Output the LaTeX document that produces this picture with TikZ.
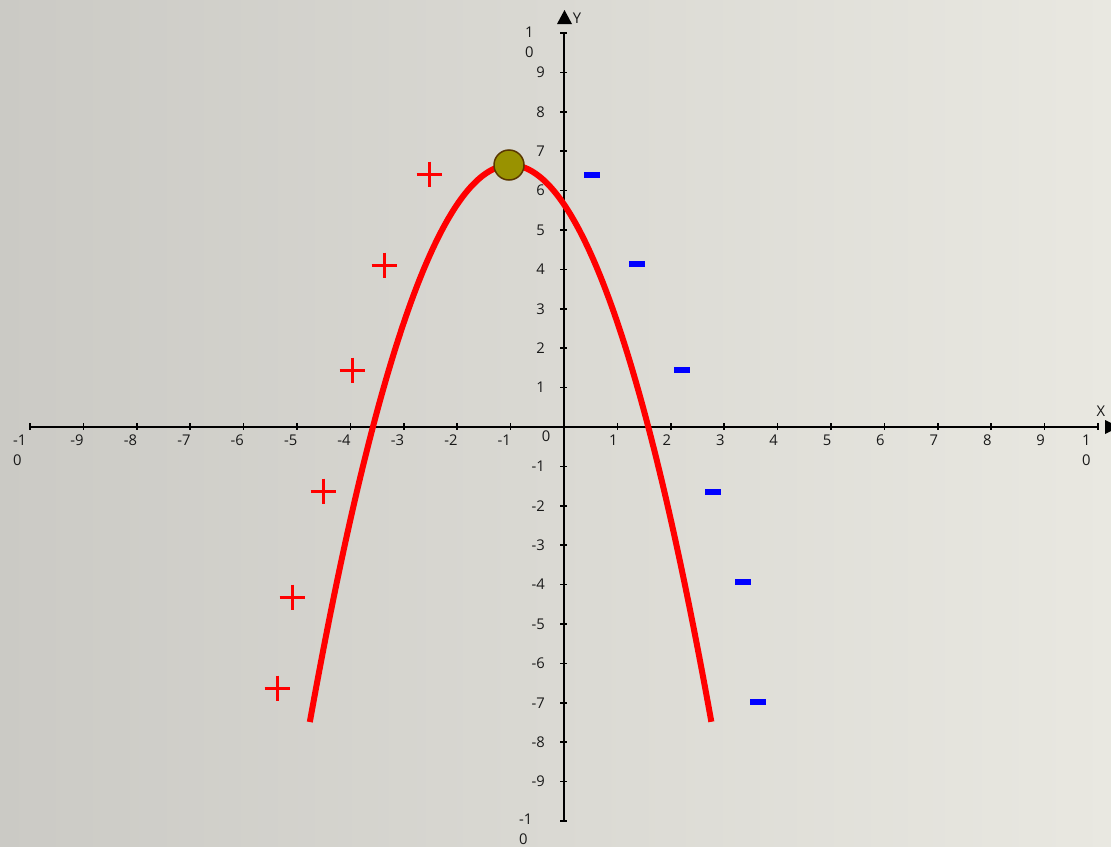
\documentclass[tikz,border=0pt]{standalone}
\usepackage{fontspec}
\setmainfont{Open Sans}
\begin{document}
\begin{tikzpicture}[x=1pt,y=-1pt,
  axisline/.style={line width=2pt,black},
  tickline/.style={line width=1.6pt,black},
  lbl/.style={inner sep=0pt,font=\fontsize{14.8}{20}\selectfont,text=black!90},
  plusmark/.style={red,line width=3pt},
  minusmark/.style={fill={rgb,255:red,0;green,0;blue,255},draw=none},
  curve/.style={red,line width=6pt},
  vertexdot/.style={circle,minimum size=30pt,inner sep=0pt,fill={rgb,255:red,153;green,146;blue,0},draw={rgb,255:red,90;green,55;blue,0},line width=1.5pt}]
\useasboundingbox (0,0) rectangle (1111,846);
\shade[left color={rgb,255:red,203;green,202;blue,197},right color={rgb,255:red,233;green,232;blue,225}] (0,0) rectangle (1111,846);
% axes
\coordinate (xl) at (30,427);
\coordinate (xr) at (1098,427);
\coordinate (yt) at (564,33);
\coordinate (yb) at (564,821);
\draw[axisline] (xl) -- (xr);
\draw[axisline] (yb) -- (yt);
\fill[black] (557,24) -- (572,24) -- (564.5,10) -- cycle;
\fill[black] (1105,420) -- (1105,434) -- (1119,427) -- cycle;
\node[lbl] (ylab) at (577,18) {Y};
\node[lbl] (xlab) at (1101,411) {X};
% ticks
\foreach \k in {-10,...,10}{
  \draw[tickline] ({564+53.4*\k},423) -- ({564+53.4*\k},430);
  \draw[tickline] (560,{427-39.4*\k}) -- (567,{427-39.4*\k});
}
% x labels
\foreach \k in {-9,...,-1,1,2,...,9}{
  \node[lbl,anchor=north east] (xt\k) at ({564+53.4*\k+0.5},435) {\k};
}
\node[lbl,anchor=north west,align=left] (xtm10) at (13,435) {-1\\0};
\node[lbl,anchor=north west,align=left] (xtp10) at (1082,435) {1\\0};
\node[lbl] (orig) at (546,436) {0};
% y labels
\foreach \k in {-9,...,-1,1,2,...,9}{
  \node[lbl,anchor=east] (yt\k) at (545,{427-39.4*\k}) {\k};
}
\node[lbl,anchor=north west,align=left] (ytp10) at (525,27) {1\\0};
\node[lbl,anchor=north west,align=left] (ytm10) at (519,814) {-1\\0};
% curve
\draw[curve] plot[domain=-4.76:2.76,samples=120,smooth] ({564+53.4*\x},{427-39.4*(6.65-(\x+1)*(\x+1))});
\node[vertexdot] (vertex) at (509,165) {};
% plus marks
\foreach \px/\py in {429/174,384/265,352/370,323/491,292/597,277/688}{
  \draw[plusmark] (\px-12.5,\py) -- (\px+12.5,\py);
  \draw[plusmark] (\px,\py-12.5) -- (\px,\py+12.5);
}
% minus marks
\foreach \px/\py in {592/175,637/264,682/370,713/492,743/582,758/702}{
  \fill[minusmark] (\px-8,\py-3.3) rectangle (\px+8,\py+3.3);
}
\end{tikzpicture}
\end{document}
